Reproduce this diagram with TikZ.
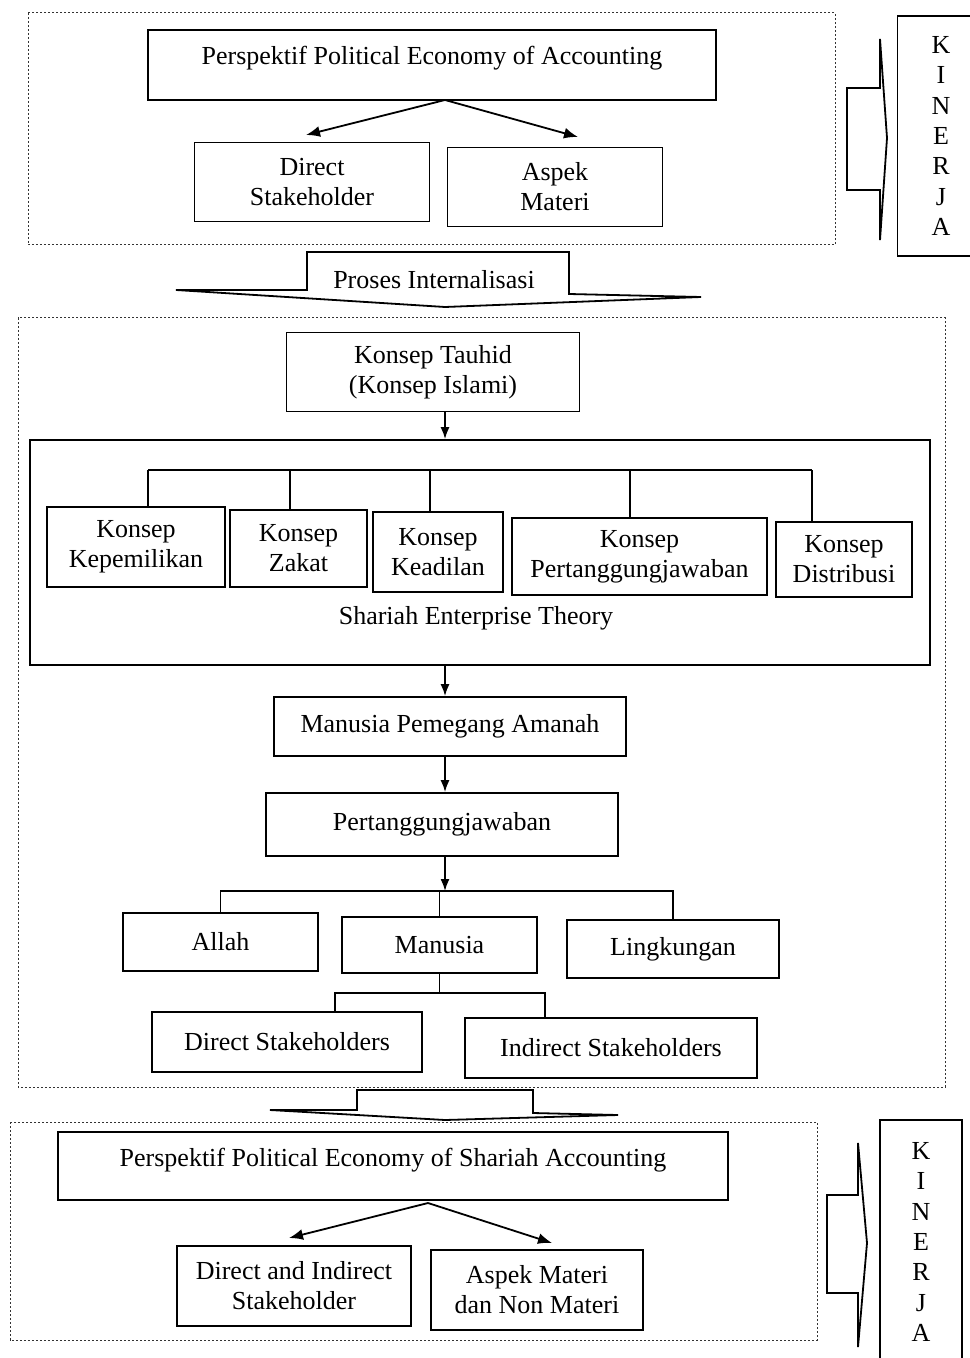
\documentclass[tikz,border=0pt]{standalone}
\usepackage{fontspec}
\setmainfont{Liberation Serif}
\usetikzlibrary{arrows.meta,positioning,calc}
\newcommand{\bodyfont}{\fontsize{13}{15}\selectfont}

\begin{document}
\begin{tikzpicture}[x=0.5pt,y=-0.5pt,
  cbox/.style={draw,line width=0.9pt,align=center,inner sep=2pt,font=\bodyfont},
  grp/.style={draw=black!80,line width=0.5pt,dash pattern=on 1.2pt off 0.8pt},
  kin/.style={draw,line width=0.9pt,align=center,font=\fontsize{13}{15.2}\selectfont},
  bigarr/.style={draw,line width=0.9pt,line join=miter},
  arr/.style={-{Latex[length=6pt,width=4.5pt]},line width=0.8pt},
  diag/.style={-{Latex[length=7pt,width=5.5pt]},line width=0.9pt},
  lnk/.style={line width=0.8pt}]
  \useasboundingbox (0,0) rectangle (969,1358);
  \coordinate (spine) at (445,0);

  % top: political economy of accounting
  \draw[grp] (28,13) rectangle (835,245);
  \node[cbox,minimum width=284pt,minimum height=35pt,text depth=10pt] (peA) at (432,65) {Perspektif Political Economy of Accounting};
  \node[cbox,minimum width=117.5pt,minimum height=39.5pt] (dsA) at (312,182) {Direct\\Stakeholder};
  \node[cbox,minimum width=107.5pt,minimum height=39.5pt] (amA) at (555,187) {Aspek\\Materi};
  \coordinate (forkA) at (445,100);
  \coordinate (tipAl) at (306,135);
  \coordinate (tipAr) at (578,137);
  \draw[diag] (forkA) -- (tipAl);
  \draw[diag] (forkA) -- (tipAr);

  \draw[bigarr] (847,88) -- (880,88) -- (880,39) -- (887,138) -- (880,240) -- (880,190) -- (847,190) -- cycle;
  \node[kin,minimum width=43.5pt,minimum height=120pt] (kinA) at (941,136) {K\\I\\N\\E\\R\\J\\A};

  % proses internalisasi
  \draw[bigarr] (176,290) -- (307,290) -- (307,252) -- (569,252) -- (569,294) -- (701,297) -- (445,307) -- cycle;
  \node[font=\bodyfont] (proses) at (434,280) {Proses Internalisasi};

  % middle: shariah enterprise theory
  \draw[grp] (18,318) rectangle (945,1087);
  \node[cbox,minimum width=146.5pt,minimum height=39.5pt] (tauhid) at (433,372) {Konsep Tauhid\\(Konsep Islami)};
  \node[draw,line width=0.9pt,minimum width=450pt,minimum height=112.5pt] (set) at (480,552.5) {};
  \draw[arr] (tauhid.south -| spine) -- (set.north -| spine);

  \node[cbox,minimum width=89pt,minimum height=40pt] (kep) at (136,547) {Konsep\\Kepemilikan};
  \node[cbox,minimum width=68.5pt,minimum height=38.5pt] (zak) at (298.5,548.5) {Konsep\\Zakat};
  \node[cbox,minimum width=65pt,minimum height=40pt] (kea) at (438,552) {Konsep\\Keadilan};
  \node[cbox,minimum width=127.5pt,minimum height=38.5pt] (per) at (639.5,556.5) {Konsep\\Pertanggungjawaban};
  \node[cbox,minimum width=68pt,minimum height=37.5pt] (dis) at (844,559.5) {Konsep\\Distribusi};
  \foreach \x/\n in {148/kep,290/zak,430/kea,630/per,812/dis}{
    \coordinate (d\n) at (\x,470);
    \draw[lnk] (d\n) -- (d\n |- \n.north);
  }
  \draw[lnk] (dkep) -- (ddis);
  \node[font=\bodyfont] (setlbl) at (476,618) {Shariah Enterprise Theory};

  \node[cbox,minimum width=176pt,minimum height=29.5pt] (amanah) at (450,726.5) {Manusia Pemegang Amanah};
  \node[cbox,minimum width=176pt,minimum height=31.5pt] (tanggung) at (442,824.5) {Pertanggungjawaban};
  \draw[arr] (set.south -| spine) -- (amanah.north -| spine);
  \draw[arr] (amanah.south -| spine) -- (tanggung.north -| spine);

  \node[cbox,minimum width=97.5pt,minimum height=29pt] (allah) at (220.5,942) {Allah};
  \node[cbox,minimum width=97.5pt,minimum height=28pt] (manusia) at (439.5,945) {Manusia};
  \node[cbox,minimum width=106pt,minimum height=29pt] (lingk) at (673,949) {Lingkungan};
  \coordinate (bar2) at (445,891);
  \draw[arr] (tanggung.south -| spine) -- (bar2);
  \draw[lnk] (allah.north) -- (allah.north |- bar2) -- (lingk.north |- bar2) -- (lingk.north);
  \draw[lnk] (manusia.north) -- (manusia.north |- bar2);

  \node[cbox,minimum width=135pt,minimum height=30pt] (dsB) at (287,1042) {Direct Stakeholders};
  \node[cbox,minimum width=146pt,minimum height=30pt] (isB) at (611,1048) {Indirect Stakeholders};
  \coordinate (d3l) at (335,993);
  \coordinate (d3r) at (545,993);
  \draw[lnk] (manusia.south) -- (manusia.south |- d3l);
  \draw[lnk] (d3l |- dsB.north) -- (d3l) -- (d3r) -- (d3r |- isB.north);

  % down arrow
  \draw[bigarr] (270,1110) -- (357,1110) -- (357,1090) -- (533,1090) -- (533,1113) -- (618,1115) -- (445,1120) -- cycle;

  % bottom: political economy of shariah accounting
  \draw[grp] (10,1122) rectangle (817,1340);
  \node[cbox,minimum width=335pt,minimum height=34pt,text depth=9pt] (peB) at (393,1166) {Perspektif Political Economy of Shariah Accounting};
  \node[cbox,minimum width=117pt,minimum height=40pt] (dsC) at (294,1286) {Direct and Indirect\\Stakeholder};
  \node[cbox,minimum width=106pt,minimum height=40pt] (amC) at (537,1290) {Aspek Materi\\dan Non Materi};
  \coordinate (forkB) at (428,1203);
  \coordinate (tipBl) at (289,1238);
  \coordinate (tipBr) at (552,1243);
  \draw[diag] (forkB) -- (tipBl);
  \draw[diag] (forkB) -- (tipBr);

  \draw[bigarr] (827,1195) -- (858,1195) -- (858,1143) -- (867,1243) -- (858,1347) -- (858,1293) -- (827,1293) -- cycle;
  \node[kin,minimum width=41pt,minimum height=122pt] (kinB) at (921,1242) {K\\I\\N\\E\\R\\J\\A};
\end{tikzpicture}
\end{document}
